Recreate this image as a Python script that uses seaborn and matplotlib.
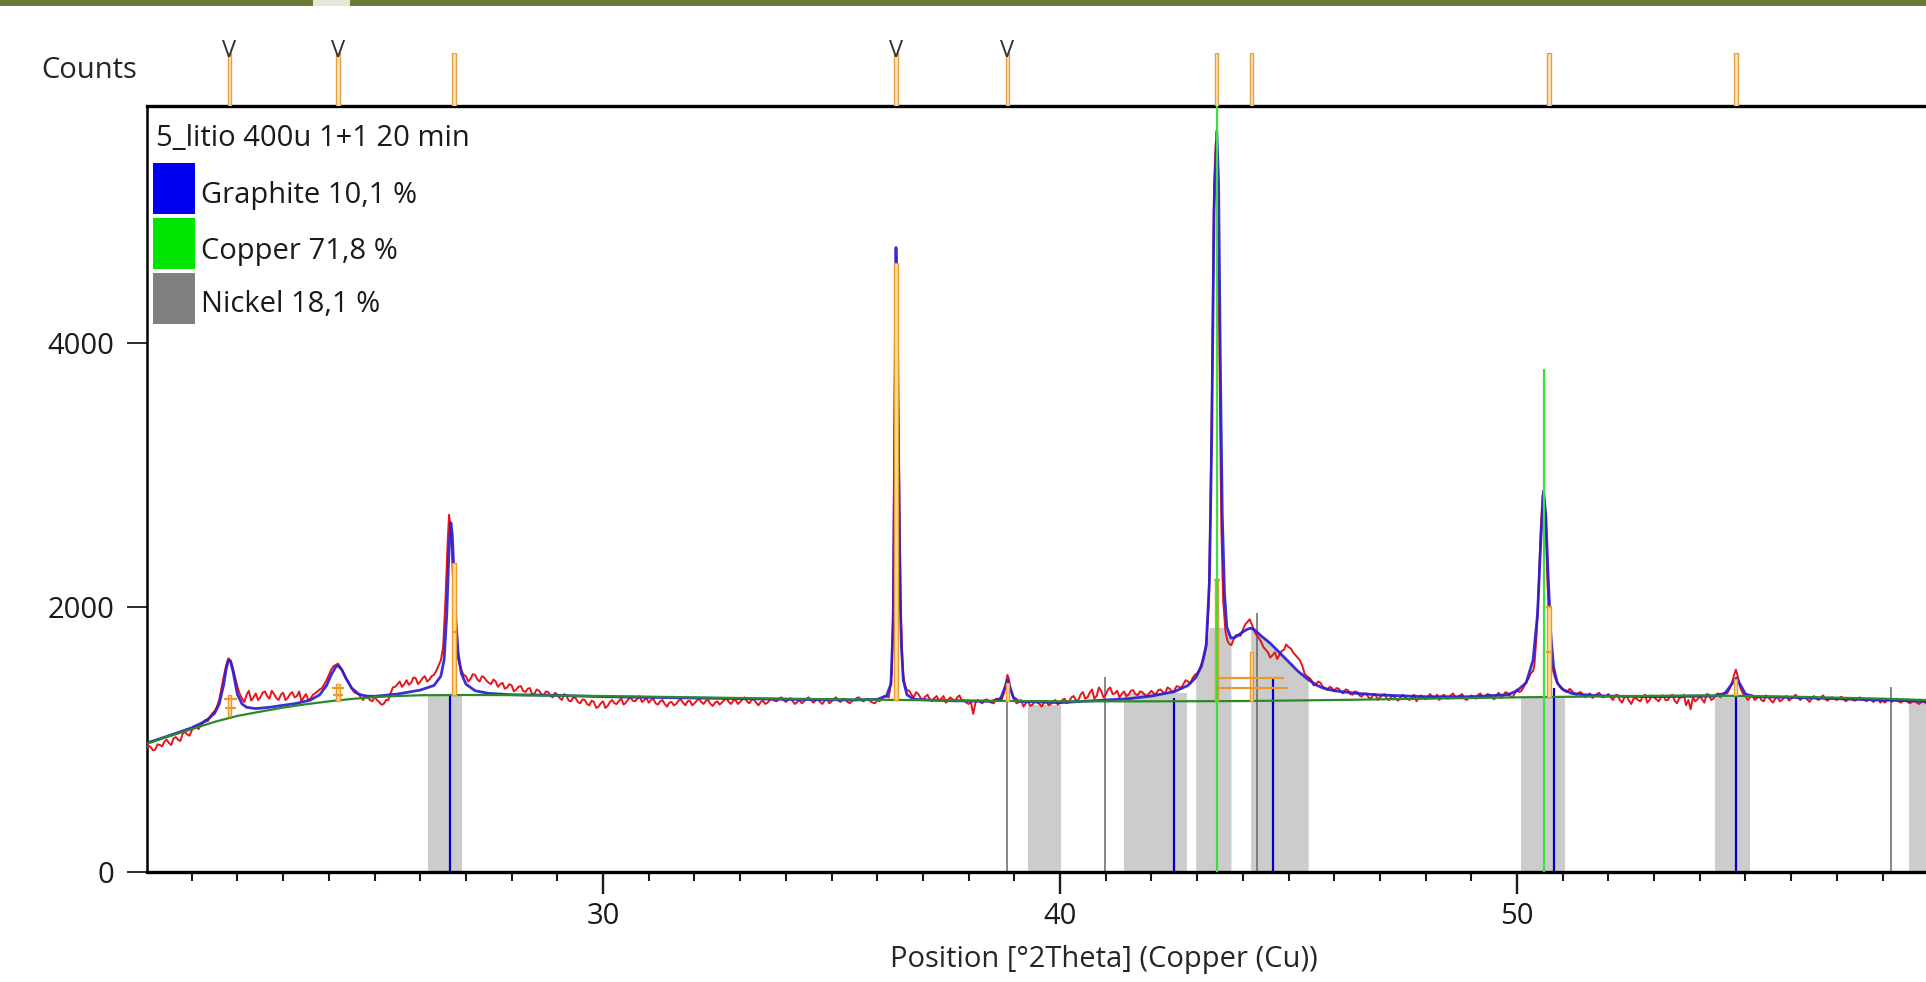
import numpy as np
import pandas as pd
import matplotlib
matplotlib.use("Agg")
import matplotlib.pyplot as plt
import seaborn as sns
from matplotlib.patches import Rectangle
from matplotlib.ticker import MultipleLocator

# ---------------- data ----------------
x_range = (20.02, 58.95)
y_range = (0, 5790)
y_ticks = [0, 2000, 4000]

sample_name = "5_litio 400u 1+1 20 min"
phase_names = ["Graphite", "Copper", "Nickel"]
phase_percent = ["10,1", "71,8", "18,1"]
phase_colors = ["#0000F0", "#00E600", "#808080"]

# observed scan, counts at 20.0, 20.1, ... 58.9
scan_start = 20.0
scan_step = 0.1
scan_counts = [
    930, 945, 925, 960, 985, 975, 1010, 1000, 1045, 1040,
    1070, 1095, 1110, 1150, 1170, 1215, 1300, 1480, 1615, 1540,
    1400, 1310, 1340, 1295, 1350, 1320, 1365, 1310, 1345, 1300,
    1355, 1315, 1360, 1330, 1290, 1345, 1310, 1350, 1380, 1420,
    1490, 1555, 1575, 1520, 1450, 1385, 1350, 1320, 1335, 1300,
    1325, 1285, 1270, 1300, 1395, 1420, 1400, 1450, 1430, 1465,
    1440, 1480, 1455, 1490, 1560, 1750, 2600, 2550, 1700, 1520,
    1480, 1460, 1490, 1440, 1470, 1430, 1455, 1400, 1430, 1395,
    1410, 1380, 1405, 1360, 1390, 1350, 1370, 1335, 1360, 1320,
    1340, 1300, 1330, 1290, 1315, 1275, 1300, 1260, 1285, 1250,
    1290, 1255, 1300, 1270, 1310, 1280, 1320, 1290, 1330, 1300,
    1280, 1310, 1265, 1300, 1250, 1285, 1270, 1305, 1260, 1295,
    1275, 1310, 1270, 1300, 1255, 1290, 1280, 1315, 1270, 1300,
    1285, 1320, 1275, 1305, 1260, 1295, 1280, 1310, 1290, 1320,
    1285, 1315, 1270, 1300, 1290, 1320, 1280, 1305, 1270, 1310,
    1290, 1320, 1285, 1305, 1275, 1300, 1320, 1290, 1310, 1280,
    1300, 1315, 1330, 1500, 4600, 2000, 1400, 1370, 1320, 1345,
    1300, 1340, 1290, 1330, 1310, 1280, 1320, 1290, 1335, 1300,
    1270, 1195, 1300, 1275, 1305, 1280, 1310, 1320, 1480, 1350,
    1300, 1285, 1250, 1290, 1265, 1280, 1250, 1295, 1270, 1300,
    1280, 1310, 1290, 1330, 1300, 1360, 1320, 1380, 1330, 1370,
    1340, 1395, 1350, 1320, 1365, 1340, 1375, 1335, 1360, 1330,
    1370, 1345, 1380, 1350, 1385, 1370, 1400, 1420, 1440, 1465,
    1500, 1580, 1700, 3800, 5500, 3500, 1820, 1720, 1760, 1790,
    1830, 1890, 1870, 1790, 1740, 1680, 1620, 1660, 1640, 1680,
    1700, 1660, 1620, 1560, 1480, 1450, 1420, 1430, 1390, 1400,
    1370, 1385, 1350, 1375, 1340, 1360, 1325, 1350, 1310, 1345,
    1320, 1345, 1300, 1330, 1295, 1340, 1310, 1320, 1290, 1335,
    1305, 1345, 1315, 1300, 1340, 1310, 1350, 1320, 1345, 1300,
    1335, 1310, 1350, 1320, 1340, 1305, 1355, 1330, 1350, 1320,
    1380, 1370, 1440, 1500, 1700, 2700, 2600, 1700, 1480, 1420,
    1385, 1360, 1370, 1340, 1360, 1320, 1350, 1330, 1355, 1320,
    1345, 1300, 1340, 1280, 1330, 1270, 1315, 1290, 1340, 1300,
    1320, 1290, 1335, 1300, 1340, 1275, 1320, 1260, 1230, 1290,
    1330, 1280, 1340, 1310, 1350, 1345, 1380, 1500, 1480, 1360,
    1330, 1320, 1300, 1330, 1290, 1320, 1280, 1325, 1300, 1330,
    1310, 1340, 1300, 1325, 1285, 1330, 1300, 1335, 1295, 1320,
    1300, 1325, 1290, 1315, 1295, 1320, 1300, 1310, 1285, 1305,
    1295, 1300, 1285, 1310, 1280, 1300, 1275, 1295, 1270, 1290,
]
# observed scan, counts at 20.05, 20.15, ... 58.95
scan_mid_counts = [
    955, 920, 965, 950, 1000, 960, 1020, 990, 1060, 1030,
    1100, 1080, 1135, 1140, 1200, 1250, 1390, 1560, 1600, 1470,
    1345, 1285, 1370, 1320, 1300, 1355, 1330, 1370, 1315, 1340,
    1300, 1345, 1320, 1365, 1320, 1300, 1340, 1365, 1390, 1450,
    1530, 1565, 1550, 1480, 1420, 1360, 1345, 1300, 1320, 1290,
    1300, 1265, 1300, 1350, 1400, 1440, 1420, 1415, 1470, 1420,
    1465, 1440, 1480, 1520, 1620, 2100, 2650, 1950, 1600, 1490,
    1440, 1495, 1455, 1480, 1445, 1420, 1440, 1420, 1385, 1420,
    1365, 1400, 1370, 1385, 1340, 1380, 1345, 1365, 1330, 1355,
    1315, 1345, 1295, 1320, 1285, 1305, 1270, 1295, 1240, 1275,
    1240, 1285, 1275, 1295, 1265, 1305, 1295, 1310, 1285, 1315,
    1300, 1275, 1290, 1270, 1280, 1260, 1295, 1280, 1290, 1260,
    1295, 1285, 1295, 1270, 1280, 1265, 1300, 1285, 1295, 1270,
    1305, 1290, 1300, 1280, 1285, 1270, 1300, 1295, 1310, 1300,
    1300, 1290, 1285, 1275, 1310, 1300, 1295, 1285, 1295, 1275,
    1310, 1295, 1310, 1285, 1295, 1315, 1300, 1305, 1290, 1275,
    1290, 1330, 1320, 2000, 3700, 1520, 1375, 1340, 1360, 1315,
    1325, 1305, 1315, 1295, 1330, 1300, 1305, 1320, 1295, 1280,
    1285, 1280, 1285, 1300, 1290, 1275, 1300, 1340, 1480, 1340,
    1275, 1300, 1275, 1255, 1290, 1270, 1280, 1260, 1290, 1265,
    1300, 1275, 1320, 1295, 1340, 1310, 1355, 1310, 1395, 1320,
    1380, 1345, 1370, 1345, 1330, 1370, 1345, 1365, 1340, 1350,
    1350, 1375, 1360, 1395, 1360, 1405, 1390, 1450, 1425, 1490,
    1530, 1620, 2000, 4500, 5000, 2300, 1780, 1715, 1790, 1785,
    1870, 1910, 1820, 1770, 1700, 1660, 1640, 1610, 1670, 1720,
    1690, 1640, 1600, 1500, 1470, 1410, 1440, 1400, 1375, 1390,
    1390, 1360, 1380, 1345, 1365, 1335, 1345, 1320, 1335, 1300,
    1335, 1310, 1325, 1310, 1320, 1320, 1300, 1340, 1315, 1320,
    1325, 1320, 1340, 1325, 1315, 1335, 1320, 1335, 1310, 1320,
    1320, 1340, 1315, 1345, 1320, 1335, 1315, 1360, 1330, 1350,
    1360, 1400, 1460, 1520, 1950, 2800, 2400, 1650, 1460, 1395,
    1365, 1385, 1345, 1355, 1330, 1340, 1315, 1345, 1325, 1330,
    1320, 1335, 1300, 1320, 1295, 1310, 1300, 1325, 1280, 1335,
    1305, 1320, 1300, 1330, 1295, 1315, 1340, 1300, 1320, 1305,
    1305, 1345, 1300, 1340, 1320, 1355, 1380, 1490, 1450, 1340,
    1300, 1335, 1315, 1300, 1335, 1300, 1310, 1290, 1320, 1295,
    1325, 1315, 1320, 1305, 1310, 1310, 1320, 1305, 1315, 1310,
    1315, 1305, 1310, 1300, 1310, 1305, 1290, 1300, 1300, 1280,
    1280, 1305, 1300, 1290, 1295, 1285, 1290, 1280, 1285, 1275,
]

# finer observed points on the sharp peaks
peak26_x = [26.45, 26.5, 26.55, 26.6, 26.63, 26.66, 26.7, 26.74, 26.78, 26.82, 26.87, 26.92]
peak26_y = [1600, 1700, 2050, 2500, 2700, 2620, 2350, 2000, 1750, 1620, 1560, 1510]
peak36_x = [36.28, 36.32, 36.35, 36.38, 36.41, 36.43, 36.45, 36.47, 36.49, 36.52, 36.56, 36.6, 36.64]
peak36_y = [1380, 1520, 2100, 3500, 4650, 4500, 3700, 3300, 2700, 1900, 1520, 1420, 1380]
peak38_x = [38.72, 38.78, 38.82, 38.85, 38.88, 38.92, 38.97, 39.02]
peak38_y = [1300, 1360, 1440, 1490, 1460, 1380, 1320, 1290]
peak43_x = [43.2, 43.25, 43.29, 43.33, 43.37, 43.41, 43.44, 43.47, 43.5, 43.53, 43.57, 43.62, 43.67, 43.72]
peak43_y = [1700, 2000, 2700, 3800, 5200, 5520, 5400, 4500, 3500, 2600, 2050, 1820, 1740, 1720]
peak50_x = [50.38, 50.43, 50.48, 50.52, 50.56, 50.6, 50.63, 50.66, 50.7, 50.74, 50.79, 50.84, 50.88]
peak50_y = [1560, 1800, 2200, 2600, 2850, 2820, 2600, 2250, 1900, 1650, 1520, 1460, 1440]
peak54_x = [54.6, 54.66, 54.72, 54.76, 54.79, 54.83, 54.88, 54.94, 55.0]
peak54_y = [1350, 1390, 1450, 1500, 1530, 1480, 1400, 1350, 1330]

# calculated profile (blue)
calc_x = [20.02, 20.5, 21.0, 21.3, 21.5, 21.6, 21.7, 21.75, 21.8, 21.85, 21.9, 21.95, 22.0, 22.1,
          22.2, 22.4, 22.7, 23.0, 23.3, 23.6, 23.8, 23.95, 24.05, 24.15, 24.2, 24.28, 24.38, 24.5,
          24.65, 24.8, 25.0, 25.5, 26.0, 26.3, 26.45, 26.52, 26.58, 26.63, 26.67, 26.7, 26.74, 26.78,
          26.83, 26.9, 27.0, 27.2, 27.5, 28.0, 29.0, 30.0, 32.0, 34.0, 35.5, 36.0, 36.2, 36.3, 36.35,
          36.38, 36.41, 36.44, 36.47, 36.5, 36.53, 36.57, 36.65, 36.8, 37.5, 38.5, 38.7, 38.8, 38.85,
          38.9, 38.98, 39.1, 40.0, 41.0, 41.5, 42.0, 42.5, 42.8, 42.97, 43.1, 43.2, 43.27, 43.32,
          43.37, 43.43, 43.47, 43.51, 43.55, 43.6, 43.65, 43.74, 43.82, 43.9, 44.0, 44.1, 44.17,
          44.25, 44.4, 44.6, 44.8, 45.0, 45.2, 45.43, 45.6, 45.75, 46.0, 46.5, 47.0, 48.0, 49.0,
          49.8, 50.0, 50.2, 50.35, 50.45, 50.52, 50.58, 50.63, 50.68, 50.74, 50.8, 50.88, 51.0,
          51.2, 51.6, 52.0, 53.0, 54.3, 54.55, 54.7, 54.8, 54.88, 55.0, 55.2, 56.0, 57.0, 58.0, 58.95]
calc_y = [975, 1030, 1090, 1140, 1200, 1270, 1420, 1530, 1600, 1590, 1520, 1430, 1340, 1270,
          1245, 1235, 1245, 1260, 1275, 1300, 1340, 1410, 1490, 1550, 1560, 1530, 1460, 1390,
          1345, 1330, 1328, 1345, 1375, 1410, 1480, 1600, 1950, 2450, 2640, 2550, 2250, 1900,
          1650, 1500, 1420, 1370, 1350, 1340, 1335, 1325, 1315, 1305, 1300, 1305, 1330, 1420, 1900,
          3200, 4720, 4200, 3000, 2100, 1700, 1450, 1340, 1305, 1295, 1290, 1310, 1400, 1450,
          1400, 1320, 1290, 1280, 1300, 1310, 1330, 1363, 1410, 1470, 1560, 1720, 2200, 3300,
          5000, 5600, 5200, 3800, 2700, 2100, 1850, 1768, 1772, 1790, 1815, 1835, 1843,
          1832, 1785, 1729, 1660, 1590, 1520, 1455, 1415, 1391, 1370, 1350, 1338, 1325, 1325,
          1340, 1370, 1430, 1600, 1950, 2500, 2880, 2700, 2250, 1800, 1550, 1430, 1380,
          1350, 1335, 1330, 1325, 1330, 1350, 1420, 1466, 1420, 1345, 1325, 1320, 1310, 1300, 1290]

# background (green)
bg_x = [20.02, 20.5, 21.0, 21.5, 22.0, 22.5, 23.0, 23.5, 24.0, 24.5, 25.0, 25.5, 26.0, 27.0, 28.0,
        30.0, 32.0, 34.0, 36.0, 38.0, 40.0, 42.0, 44.0, 46.0, 48.0, 50.0, 52.0, 54.0, 56.0, 58.0, 58.95]
bg_y = [970, 1025, 1080, 1135, 1180, 1212, 1243, 1268, 1290, 1308, 1322, 1330, 1336, 1338, 1337,
        1330, 1320, 1310, 1302, 1295, 1290, 1290, 1292, 1300, 1310, 1320, 1328, 1335, 1325, 1310, 1300]

# reference patterns (stick positions / heights)
graphite_pos = [26.64, 42.50, 44.67, 50.81, 54.79]
graphite_h = [1338, 1316, 1477, 1391, 1400]
copper_pos = [43.43, 50.58]
copper_h = [5790, 3800]
nickel_pos = [38.85, 40.98, 44.30, 58.18]
nickel_h = [1288, 1477, 1958, 1401]

# shaded regions
band_lo = [26.18, 39.30, 41.40, 42.97, 44.17, 50.09, 54.33, 58.57]
band_hi = [26.92, 40.02, 42.77, 43.74, 45.43, 51.05, 55.09, 59.50]
band_top = [1338, 1263, 1353, 1850, 1850, 1330, 1335, 1305]
band_under_profile = [False, False, False, True, True, False, False, False]

# peak list (orange)
peak_pos = [21.82, 24.20, 26.74, 36.41, 38.85, 43.43, 44.19, 50.70, 54.79]
peak_base = [1180, 1295, 1338, 1302, 1292, 1290, 1290, 1320, 1335]
peak_top = [1340, 1420, 2336, 4600, 1430, 2210, 1660, 2004, 1460]
peak_marked = [21.82, 24.20, 36.41, 38.85]
cross_x0 = [21.70, 21.72, 24.07, 24.09, 43.40, 43.42, 50.63, 50.63, 43.38, 26.70]
cross_x1 = [21.98, 21.96, 24.33, 24.31, 44.90, 44.98, 50.77, 50.77, 43.50, 26.80]
cross_y = [1308, 1243, 1391, 1341, 1468, 1391, 2004, 1664, 2210, 1816]

# ---------------- assemble observed scan ----------------
grid_x = np.round(scan_start + scan_step * np.arange(len(scan_counts)), 3)
mid_x = np.round(scan_start + scan_step / 2 + scan_step * np.arange(len(scan_mid_counts)), 3)
all_x = np.concatenate([grid_x, mid_x])
all_y = np.concatenate([np.array(scan_counts, float), np.array(scan_mid_counts, float)])
details = [(peak26_x, peak26_y), (peak36_x, peak36_y), (peak38_x, peak38_y),
           (peak43_x, peak43_y), (peak50_x, peak50_y), (peak54_x, peak54_y)]
keep = np.ones(len(all_x), bool)
for dx, dy in details:
    keep &= ~((all_x >= min(dx) - 1e-6) & (all_x <= max(dx) + 1e-6))
obs_x = np.concatenate([all_x[keep]] + [np.array(d[0]) for d in details])
obs_y = np.concatenate([all_y[keep]] + [np.array(d[1]) for d in details])
order = np.argsort(obs_x)
obs = pd.DataFrame({"pos": obs_x[order], "counts": obs_y[order]})
calc = pd.DataFrame({"pos": calc_x, "counts": calc_y})
bg = pd.DataFrame({"pos": bg_x, "counts": bg_y})

# ---------------- figure ----------------
sns.set_style("ticks")
plt.rcParams['font.family'] = ['Open Sans', 'DejaVu Sans']
plt.rcParams['text.color'] = '#1a1a1a'
plt.rcParams['xtick.color'] = '#1a1a1a'
plt.rcParams['ytick.color'] = '#1a1a1a'

W_PX, H_PX = 1926, 982
AX_L, AX_R, AX_T, AX_B = 147, 1926, 106, 872
fig = plt.figure(figsize=(W_PX / 100, H_PX / 100), dpi=100)
ax = fig.add_axes([AX_L / W_PX, 1 - AX_B / H_PX, (AX_R - AX_L) / W_PX, (AX_B - AX_T) / H_PX])

def ax_fx(px):
    return (px - AX_L) / (AX_R - AX_L)

def ax_fy(py):
    return (AX_B - py) / (AX_B - AX_T)

# shaded regions
cx = np.array(calc_x, float)
cy = np.array(calc_y, float)
for lo, hi, top, under in zip(band_lo, band_hi, band_top, band_under_profile):
    if under:
        sel = (cx >= lo - 1e-6) & (cx <= hi + 1e-6)
        ax.fill_between(cx[sel], 0, np.minimum(cy[sel], top), color="#CCCCCC", lw=0, zorder=1)
    else:
        ax.bar(lo, top, width=hi - lo, align="edge", color="#CCCCCC", lw=0, zorder=1)

# reference sticks
ax.vlines(nickel_pos, 0, nickel_h, color="#666666", lw=1.1, zorder=2)
ax.vlines(graphite_pos, 0, graphite_h, color="#0000C8", lw=1.6, zorder=2)

# curves
sns.lineplot(data=obs, x="pos", y="counts", ax=ax, color="#E8141B", linewidth=1.4,
             estimator=None, sort=False, zorder=3)
sns.lineplot(data=calc, x="pos", y="counts", ax=ax, color="#2A1ED2", linewidth=2.0,
             estimator=None, sort=False, zorder=4, alpha=0.92)
sns.lineplot(data=bg, x="pos", y="counts", ax=ax, color="#2A8A2A", linewidth=1.6,
             estimator=None, sort=False, zorder=5)

# peak list markers
for p, b, t in zip(peak_pos, peak_base, peak_top):
    ax.bar(p, t - b, bottom=b, width=0.07, color="#FFDD99", edgecolor="#EC9A2E",
           lw=1.0, zorder=5.5)
ax.hlines(cross_y, cross_x0, cross_x1, color="#EC9A2E", lw=1.6, zorder=5.6)

# copper sticks on top
ax.vlines(copper_pos, 0, copper_h, color="#3CE03C", lw=1.6, zorder=6)

ax.set_xlim(*x_range)
ax.set_ylim(*y_range)
ax.xaxis.set_major_locator(MultipleLocator(10))
ax.xaxis.set_minor_locator(MultipleLocator(1))
ax.set_yticks(y_ticks)
ax.tick_params(axis="x", which="major", direction="out", length=15.5, width=1.7, pad=6,
               labelsize=21, bottom=True)
ax.tick_params(axis="x", which="minor", direction="out", length=6.5, width=1.5, bottom=True)
ax.tick_params(axis="y", direction="out", length=14.5, width=1.3, pad=9, labelsize=21, left=True)
for side in ["top", "bottom"]:
    ax.spines[side].set_visible(True)
    ax.spines[side].set_linewidth(2.4)
    ax.spines[side].set_color("black")
ax.spines["left"].set_linewidth(1.8)
ax.spines["left"].set_color("black")
ax.spines["right"].set_visible(False)

ax.set_xlabel("Position [°2Theta] (Copper (Cu))", fontsize=21)
ax.xaxis.label.set_va("center")
ax.xaxis.set_label_coords(ax_fx(1104), ax_fy(960))
ax.set_ylabel("Counts", fontsize=21, rotation=0, ha="center", va="center")
ax.yaxis.set_label_coords(ax_fx(89), ax_fy(71))

# legend block
ax.text(ax_fx(156), ax_fy(139), sample_name, fontsize=21, ha="left", va="center",
        transform=ax.transAxes, zorder=10)
sq_tops = [163, 218, 273]
txt_y = [195, 251, 305]
for name, pct, col, st, ty in zip(phase_names, phase_percent, phase_colors, sq_tops, txt_y):
    ax.add_patch(Rectangle((ax_fx(153), ax_fy(st + 51)), ax_fx(195) - ax_fx(153),
                           ax_fy(st) - ax_fy(st + 51), transform=ax.transAxes,
                           color=col, lw=0, zorder=10))
    ax.text(ax_fx(201), ax_fy(ty), f"{name} {pct} %", fontsize=21, ha="left", va="center",
            transform=ax.transAxes, zorder=10)

# peak markers above the plot
ax_top = fig.add_axes([AX_L / W_PX, 1 - AX_T / H_PX, (AX_R - AX_L) / W_PX, 53 / H_PX])
ax_top.set_xlim(*x_range)
ax_top.set_ylim(0, 1)
ax_top.axis("off")
ax_top.bar(peak_pos, 1, width=0.075, bottom=0, color="#FCE4BC", edgecolor="#E5A046", lw=1.0)
for p in peak_marked:
    ax_top.text(p, 0.93, "V", ha="center", va="baseline", fontsize=17, color="#333333",
                clip_on=False)

# frame strip at the top of the slide
fig.patches.append(Rectangle((0, 1 - 6 / H_PX), 1, 6 / H_PX, transform=fig.transFigure,
                             color="#687A34", lw=0, zorder=20))
fig.patches.append(Rectangle((313 / W_PX, 1 - 6 / H_PX), 37 / W_PX, 6 / H_PX,
                             transform=fig.transFigure, color="#E3E7D8", lw=0, zorder=21))

fig.savefig("out.png", dpi=100)
